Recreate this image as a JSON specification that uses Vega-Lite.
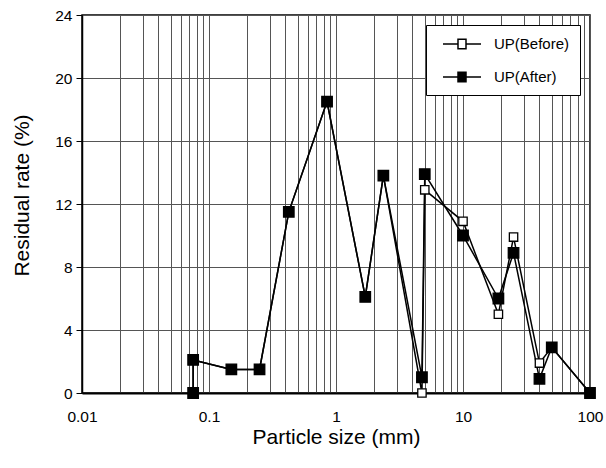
{
  "$schema": "https://vega.github.io/schema/vega-lite/v6.json",
  "width": 508,
  "height": 378,
  "autosize": "none",
  "padding": {"left": 82, "top": 15, "right": 16, "bottom": 75},
  "background": "white",
  "config": {
    "font": "Liberation Sans",
    "view": {"stroke": "black", "strokeWidth": 1.5}
  },
  "data": {
    "values": [
      {"series": "UP(Before)", "seq": 1, "size": 0.075, "rate": 0},
      {"series": "UP(Before)", "seq": 2, "size": 0.075, "rate": 2.1},
      {"series": "UP(Before)", "seq": 3, "size": 0.15, "rate": 1.5},
      {"series": "UP(Before)", "seq": 4, "size": 0.25, "rate": 1.5},
      {"series": "UP(Before)", "seq": 5, "size": 0.425, "rate": 11.5},
      {"series": "UP(Before)", "seq": 6, "size": 0.85, "rate": 18.5},
      {"series": "UP(Before)", "seq": 7, "size": 1.7, "rate": 6.1},
      {"series": "UP(Before)", "seq": 8, "size": 2.36, "rate": 13.8},
      {"series": "UP(Before)", "seq": 9, "size": 4.75, "rate": 0},
      {"series": "UP(Before)", "seq": 10, "size": 5, "rate": 12.9},
      {"series": "UP(Before)", "seq": 11, "size": 10, "rate": 10.9},
      {"series": "UP(Before)", "seq": 12, "size": 19, "rate": 5},
      {"series": "UP(Before)", "seq": 13, "size": 25, "rate": 9.9},
      {"series": "UP(Before)", "seq": 14, "size": 40, "rate": 1.9},
      {"series": "UP(Before)", "seq": 15, "size": 50, "rate": 2.9},
      {"series": "UP(Before)", "seq": 16, "size": 100, "rate": 0},
      {"series": "UP(After)", "seq": 1, "size": 0.075, "rate": 0},
      {"series": "UP(After)", "seq": 2, "size": 0.075, "rate": 2.1},
      {"series": "UP(After)", "seq": 3, "size": 0.15, "rate": 1.5},
      {"series": "UP(After)", "seq": 4, "size": 0.25, "rate": 1.5},
      {"series": "UP(After)", "seq": 5, "size": 0.425, "rate": 11.5},
      {"series": "UP(After)", "seq": 6, "size": 0.85, "rate": 18.5},
      {"series": "UP(After)", "seq": 7, "size": 1.7, "rate": 6.1},
      {"series": "UP(After)", "seq": 8, "size": 2.36, "rate": 13.8},
      {"series": "UP(After)", "seq": 9, "size": 4.75, "rate": 1.0},
      {"series": "UP(After)", "seq": 10, "size": 5, "rate": 13.9},
      {"series": "UP(After)", "seq": 11, "size": 10, "rate": 10},
      {"series": "UP(After)", "seq": 12, "size": 19, "rate": 6},
      {"series": "UP(After)", "seq": 13, "size": 25, "rate": 8.9},
      {"series": "UP(After)", "seq": 14, "size": 40, "rate": 0.9},
      {"series": "UP(After)", "seq": 15, "size": 50, "rate": 2.9},
      {"series": "UP(After)", "seq": 16, "size": 100, "rate": 0}
    ]
  },
  "encoding": {
    "x": {
      "field": "size",
      "type": "quantitative",
      "scale": {"type": "log", "domain": [0.01, 100]},
      "axis": {
        "title": "Particle size (mm)",
        "values": [0.01, 0.02, 0.03, 0.04, 0.05, 0.06, 0.07, 0.08, 0.09,
                   0.1, 0.2, 0.3, 0.4, 0.5, 0.6, 0.7, 0.8, 0.9,
                   1, 2, 3, 4, 5, 6, 7, 8, 9,
                   10, 20, 30, 40, 50, 60, 70, 80, 90, 100],
        "format": "~g",
        "labelExpr": "abs(log(datum.value)/LN10 - round(log(datum.value)/LN10)) < 0.001 ? datum.label : ''",
        "labelOverlap": false,
        "labelBound": false,
        "labelFlush": false,
        "grid": true,
        "gridColor": "#555555",
        "gridWidth": 1,
        "ticks": false,
        "labelPadding": 16,
        "labelFontSize": 15.5,
        "labelColor": "black",
        "domainColor": "black",
        "domainWidth": 2,
        "titleFontSize": 21,
        "titleFontWeight": "normal",
        "titleColor": "black",
        "titlePadding": 2
      }
    },
    "y": {
      "field": "rate",
      "type": "quantitative",
      "scale": {"domain": [0, 24]},
      "axis": {
        "title": "Residual rate (%)",
        "values": [0, 4, 8, 12, 16, 20, 24],
        "grid": true,
        "gridColor": "#555555",
        "gridWidth": 1,
        "tickSize": 6,
        "tickColor": "black",
        "labelPadding": 4,
        "labelFontSize": 15.5,
        "labelColor": "black",
        "domainColor": "black",
        "domainWidth": 1.5,
        "titleFontSize": 21,
        "titleFontWeight": "normal",
        "titleColor": "black",
        "titlePadding": 22,
        "titleY": 180
      }
    }
  },
  "layer": [
    {
      "mark": {"type": "line", "color": "black", "strokeWidth": 1.5},
      "encoding": {
        "detail": {"field": "series"},
        "order": {"field": "seq"}
      }
    },
    {
      "transform": [{"filter": "datum.series === 'UP(Before)'"}],
      "mark": {"type": "point", "shape": "square", "filled": true, "size": 70, "stroke": "black", "strokeWidth": 1.3, "opacity": 1},
      "encoding": {
        "fill": {
          "field": "series",
          "type": "nominal",
          "scale": {"domain": ["UP(Before)", "UP(After)"], "range": ["white", "black"]},
          "legend": {
            "title": null,
            "orient": "none",
            "legendX": 344,
            "legendY": 10,
            "padding": 10,
            "fillColor": "white",
            "strokeColor": "black",
            "symbolType": "M-0.25,0H1.625M2.625,0H4.5M1.625,-0.6H2.625V0.6H1.625Z",
            "symbolSize": 256,
            "symbolStrokeColor": "black",
            "symbolStrokeWidth": 1.5,
            "labelOffset": 40,
            "labelFontSize": 15,
            "labelColor": "black",
            "rowPadding": 16
          }
        }
      }
    },
    {
      "transform": [{"filter": "datum.series === 'UP(After)'"}],
      "mark": {"type": "point", "shape": "square", "filled": true, "size": 110, "stroke": "black", "strokeWidth": 1.3, "opacity": 1},
      "encoding": {
        "fill": {"field": "series", "type": "nominal"}
      }
    }
  ]
}
